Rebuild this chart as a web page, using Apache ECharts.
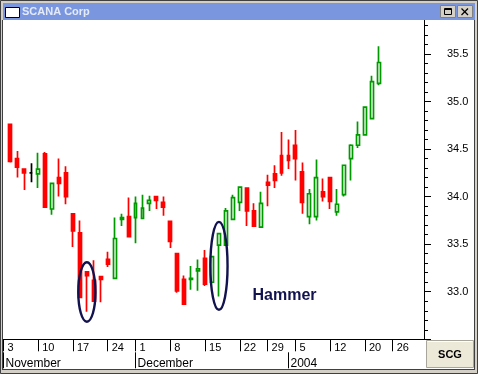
<!DOCTYPE html>
<html>
<head>
<meta charset="utf-8">
<script src="https://cdn.jsdelivr.net/npm/echarts@6/dist/echarts.min.js"></script>
<style>
html,body{margin:0;padding:0;background:#fff;}
#c{width:478px;height:374px;}
</style>
</head>
<body>
<div id="c"></div>
<script>
// Trading days shown on the axis (Nov 3 2003 .. Jan 30 2004)
const categories = [
 '2003-11-03','2003-11-04','2003-11-05','2003-11-06','2003-11-07',
 '2003-11-10','2003-11-11','2003-11-12','2003-11-13','2003-11-14',
 '2003-11-17','2003-11-18','2003-11-19','2003-11-20','2003-11-21',
 '2003-11-24','2003-11-25','2003-11-26','2003-11-28',
 '2003-12-01','2003-12-02','2003-12-03','2003-12-04','2003-12-05',
 '2003-12-08','2003-12-09','2003-12-10','2003-12-11','2003-12-12',
 '2003-12-15','2003-12-16','2003-12-17','2003-12-18','2003-12-19',
 '2003-12-22','2003-12-23','2003-12-24','2003-12-26',
 '2003-12-29','2003-12-30','2003-12-31',
 '2004-01-02',
 '2004-01-05','2004-01-06','2004-01-07','2004-01-08','2004-01-09',
 '2004-01-12','2004-01-13','2004-01-14','2004-01-15','2004-01-16',
 '2004-01-20','2004-01-21','2004-01-22','2004-01-23',
 '2004-01-26','2004-01-27','2004-01-28','2004-01-29','2004-01-30'
];
const opens = [null,
 34.76,34.40,34.29,34.25,34.24,34.45,33.87,34.20,34.25,33.82,
 33.62,33.21,33.12,33.16,33.34,33.14,33.76,33.79,33.78,33.77,
 33.93,34.00,33.94,33.74,33.40,33.13,33.13,33.22,33.35,33.10,
 33.49,33.49,33.76,33.94,34.09,33.85,33.68,34.15,34.24,34.43,
 34.43,34.54,34.26,33.79,33.79,34.05,34.20,33.84,34.02,34.40,
 34.54,34.65,34.82,35.19,
 null,null,null,null,null,null];
const closes = [null,
 34.37,34.31,34.25,34.25,34.29,33.89,34.14,34.14,34.00,33.64,
 32.94,33.17,32.90,33.13,33.29,33.56,33.78,33.58,33.93,33.88,
 33.96,33.96,33.89,33.53,33.01,32.87,33.14,33.24,33.08,33.37,
 33.61,33.85,33.99,34.10,33.85,33.69,33.93,34.12,34.17,34.25,
 34.38,34.40,33.94,34.03,34.20,34.00,33.95,33.92,34.33,34.54,
 34.65,34.94,35.21,35.41,
 null,null,null,null,null,null];
const lows = [null,
 34.36,34.20,34.07,34.15,34.09,33.89,33.81,34.00,33.92,33.47,
 32.94,32.79,32.90,32.89,33.26,33.14,33.69,33.58,33.51,33.77,
 33.85,33.87,33.80,33.46,32.99,32.87,33.02,33.01,33.06,33.09,
 32.95,33.49,33.76,33.85,33.69,33.69,33.68,33.90,34.09,34.22,
 34.29,34.17,33.82,33.71,33.75,33.95,33.87,33.80,34.00,34.17,
 34.51,34.64,34.82,35.17,
 null,null,null,null,null,null];
const highs = [null,
 34.77,34.48,34.29,34.35,34.46,34.47,34.14,34.40,34.32,33.82,
 33.75,33.21,33.33,33.16,33.42,33.78,33.82,33.99,34.00,34.02,
 34.01,34.00,34.00,33.74,33.40,33.17,33.27,33.34,33.44,33.37,
 33.61,33.88,34.02,34.10,34.09,33.93,34.05,34.23,34.33,34.68,
 34.60,34.70,34.36,34.08,34.39,34.19,34.20,34.08,34.33,34.55,
 34.79,34.95,35.27,35.58,
 null,null,null,null,null,null];
// Tick labels
const weekTicks = ['2003-11-03','2003-11-10','2003-11-17','2003-11-24','2003-12-01','2003-12-08',
 '2003-12-15','2003-12-22','2003-12-29','2004-01-05','2004-01-12','2004-01-20','2004-01-26'];
const monthTicks = ['2003-11-03','2003-12-01','2004-01-02'];
const monthLabels = ['November','December','2004'];
const yLabels = ['33.0','33.5','34.0','34.5','35.0','35.5'];
const titleText = 'SCANA Corp';
const symbolText = 'SCG';
const noteText = 'Hammer';
// annotation anchors: [category, top price, bottom price]
const ellipses = [['2003-11-19', 33.31, 32.685], ['2003-12-17', 33.735, 32.81]];
const noteAnchor = ['2003-12-31', 32.96];

const ohlc = categories.map((c, i) => opens[i] == null ? '-' : [opens[i], closes[i], lows[i], highs[i]]);

const chart = echarts.init(document.getElementById('c'), null, {renderer: 'canvas'});
const FONT = '"Liberation Sans", Arial, sans-serif';
chart.setOption({
  animation: false,
  backgroundColor: '#ffffff',
  grid: {left: -4.2, right: 54, top: 15.9, bottom: 34.7, containLabel: false},
  xAxis: [{
    type: 'category', data: categories, boundaryGap: true, position: 'bottom',
    axisLine: {show: true, lineStyle: {color: '#000', width: 1}},
    axisTick: {show: true, alignWithLabel: true, length: 12, inside: false,
      interval: (i, v) => weekTicks.indexOf(v) >= 0, lineStyle: {color: '#000', width: 1}},
    axisLabel: {show: true, interval: (i, v) => weekTicks.indexOf(v) >= 0,
      formatter: v => String(parseInt(v.slice(8), 10)), align: 'left', padding: [0, 0, 0, 4],
      margin: 3, color: '#000', fontFamily: FONT, fontSize: 11},
    splitLine: {show: false}
  }, {
    type: 'category', data: categories, boundaryGap: true, position: 'bottom', offset: 13,
    axisLine: {show: false},
    axisTick: {show: true, alignWithLabel: true, length: 16, inside: false,
      interval: (i, v) => monthTicks.indexOf(v) >= 0, lineStyle: {color: '#000', width: 1}},
    axisLabel: {show: true, interval: (i, v) => monthTicks.indexOf(v) >= 0,
      formatter: v => monthLabels[monthTicks.indexOf(v)], align: 'left', padding: [0, 0, 0, 2],
      margin: 5, color: '#000', fontFamily: FONT, fontSize: 12},
    splitLine: {show: false}
  }],
  yAxis: {
    type: 'value', position: 'right', min: 32.5, max: 35.9, interval: 0.5, scale: true,
    axisLine: {show: true, lineStyle: {color: '#000', width: 1}},
    axisTick: {show: true, length: 7, inside: false, lineStyle: {color: '#000'}},
    minorTick: {show: true, splitNumber: 5, length: 4, lineStyle: {color: '#000'}},
    axisLabel: {show: true, showMinLabel: false, margin: 23, color: '#000', fontFamily: FONT, fontSize: 11,
      formatter: v => { const s = v.toFixed(1); return yLabels.indexOf(s) >= 0 ? s : ''; }},
    splitLine: {show: false}, minorSplitLine: {show: false}
  },
  series: [{
    type: 'candlestick', data: ohlc, barWidth: 3.4, clip: true,
    itemStyle: {color: '#ffffff', color0: '#ff0000', borderColor: '#009900', borderColor0: '#ff0000',
      borderColorDoji: '#000000', borderWidth: 1.7}
  }]
});

function px(cat, price) { return chart.convertToPixel({xAxisIndex: 0, yAxisIndex: 0}, [cat, price]); }
const g = [];
ellipses.forEach(e => {
  const a = px(e[0], e[1]), b = px(e[0], e[2]);
  g.push({type: 'ellipse', z: 50, shape: {cx: a[0], cy: (a[1] + b[1]) / 2, rx: 8.6, ry: Math.abs(b[1] - a[1]) / 2},
    style: {fill: null, stroke: '#12124e', lineWidth: 2.4}});
});
const np = px(noteAnchor[0], noteAnchor[1]);
g.push({type: 'text', z: 50, x: np[0] + 3, y: np[1], style: {text: noteText, fill: '#12124e',
  font: 'bold 16px ' + FONT, align: 'center', verticalAlign: 'middle'}});
// window chrome
g.push({type: 'rect', z: 100, shape: {x: 0, y: 0, width: 478, height: 3}, style: {fill: '#d4d0c8'}});
g.push({type: 'rect', z: 100, shape: {x: 0, y: 0, width: 3, height: 374}, style: {fill: '#d4d0c8'}});
g.push({type: 'rect', z: 100, shape: {x: 475, y: 0, width: 3, height: 374}, style: {fill: '#d4d0c8'}});
g.push({type: 'rect', z: 100, shape: {x: 0, y: 370, width: 478, height: 4}, style: {fill: '#d4d0c8'}});
g.push({type: 'rect', z: 101, shape: {x: 0.5, y: 0.5, width: 477, height: 373}, style: {fill: null, stroke: '#404040', lineWidth: 1}});
g.push({type: 'line', z: 101, shape: {x1: 2.5, y1: 20, x2: 2.5, y2: 370}, style: {stroke: '#404040', lineWidth: 1}});
g.push({type: 'line', z: 101, shape: {x1: 3, y1: 369.5, x2: 475, y2: 369.5}, style: {stroke: '#404040', lineWidth: 1}});
g.push({type: 'line', z: 101, shape: {x1: 474.5, y1: 20, x2: 474.5, y2: 370}, style: {stroke: '#404040', lineWidth: 1}});
g.push({type: 'rect', z: 100, shape: {x: 3, y: 3, width: 472, height: 17}, style: {fill: '#7a96df'}});
g.push({type: 'rect', z: 102, shape: {x: 5.5, y: 7.5, width: 14, height: 10}, style: {fill: '#ffffff', stroke: '#000', lineWidth: 1}});
g.push({type: 'text', z: 102, x: 22, y: 12, style: {text: titleText, fill: '#e4eaf8', font: 'bold 11px ' + FONT, verticalAlign: 'middle'}});
[440, 457].forEach((bx, k) => {
  g.push({type: 'rect', z: 102, shape: {x: bx + 0.5, y: 5.5, width: 15, height: 12}, style: {fill: '#d4d0c8', stroke: '#808080', lineWidth: 1}});
  if (k === 0) {
    g.push({type: 'rect', z: 103, shape: {x: bx + 4.5, y: 8.5, width: 7, height: 6}, style: {fill: null, stroke: '#000', lineWidth: 1}});
    g.push({type: 'line', z: 103, shape: {x1: bx + 4.5, y1: 9.5, x2: bx + 11.5, y2: 9.5}, style: {stroke: '#000', lineWidth: 1}});
  } else {
    g.push({type: 'line', z: 103, shape: {x1: bx + 4.5, y1: 8.5, x2: bx + 11, y2: 15}, style: {stroke: '#000', lineWidth: 1.3}});
    g.push({type: 'line', z: 103, shape: {x1: bx + 11, y1: 8.5, x2: bx + 4.5, y2: 15}, style: {stroke: '#000', lineWidth: 1.3}});
  }
});
// symbol button
g.push({type: 'rect', z: 100, shape: {x: 426.5, y: 340.5, width: 47, height: 27}, style: {fill: '#ece9d8', stroke: '#a8a69a', lineWidth: 1}});
g.push({type: 'line', z: 101, shape: {x1: 427.5, y1: 341.5, x2: 472.5, y2: 341.5}, style: {stroke: '#ffffff', lineWidth: 1}});
g.push({type: 'text', z: 101, x: 450, y: 354.5, style: {text: symbolText, fill: '#000', font: 'bold 11px ' + FONT, align: 'center', verticalAlign: 'middle'}});
chart.setOption({graphic: g});
</script>
</body>
</html>
